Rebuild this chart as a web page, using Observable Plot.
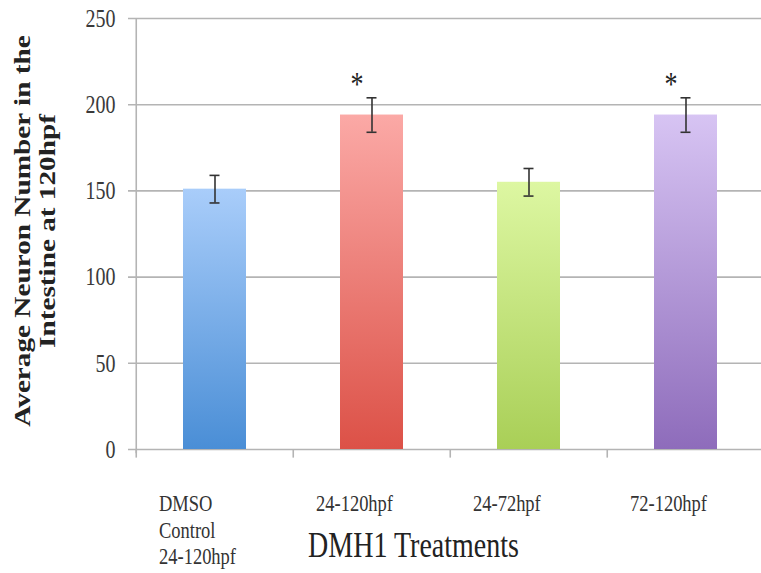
<!DOCTYPE html>
<html>
<head>
<meta charset="utf-8">
<script src="https://cdn.jsdelivr.net/npm/d3@7"></script>
<script src="https://cdn.jsdelivr.net/npm/@observablehq/plot@0.6"></script>
<style>
  body { margin: 0; background: #fff; }
  #chart svg { display: block; }
</style>
</head>
<body>
<div id="chart"></div>
<script>
// ---- data ----
const categories = ["DMSO\nControl\n24-120hpf", "24-120hpf", "24-72hpf", "72-120hpf"];
const means = [151, 194, 155, 194];
const errors = [8, 10, 8, 10];
const significance = ["", "*", "", "*"];
const yTicks = [0, 50, 100, 150, 200, 250];
const yLabel = "Average Neuron Number in the\nIntestine at 120hpf";
const xLabel = "DMH1 Treatments";
// palette (gradient top / bottom per bar)
const topColors = ["#a9cdfa", "#fba9a6", "#ddf7a2", "#d7c4f3"];
const bottomColors = ["#4a8ed6", "#dc5147", "#a9cf57", "#8e6cbb"];

const rows = categories.map((c, i) => ({
  cat: c, mean: means[i], lo: means[i] - errors[i], hi: means[i] + errors[i],
  sig: significance[i], grad: `url(#barGrad${i})`
}));

const width = 761, height = 573;
const marginLeft = 135, marginRight = -4;
const halfStep = (width - marginLeft - marginRight) / categories.length / 2;
const serif = "'Liberation Serif', 'DejaVu Serif', serif";

const gradientDefs = () => {
  const defs = d3.create("svg:defs");
  categories.forEach((c, i) => {
    const g = defs.append("linearGradient").attr("id", `barGrad${i}`)
      .attr("x1", 0).attr("y1", 0).attr("x2", 0).attr("y2", 1);
    g.append("stop").attr("offset", "0%").attr("stop-color", topColors[i]);
    g.append("stop").attr("offset", "100%").attr("stop-color", bottomColors[i]);
  });
  return defs.node();
};

const chart = Plot.plot({
  width, height,
  marginTop: 18, marginBottom: 124, marginLeft, marginRight,
  style: { fontFamily: serif, fontSize: "20px", color: "#3a3a3a", background: "#fff" },
  x: { type: "band", domain: categories, paddingInner: 0.6, paddingOuter: 0.3, axis: null },
  y: { domain: [0, 250], ticks: yTicks, tickSize: 0, tickPadding: 20, label: null, tickFormat: d => d },
  marks: [
    gradientDefs,
    // grid lines + left tick stubs
    Plot.ruleY(yTicks, { stroke: "#b4b4b4", strokeWidth: 1.6, insetLeft: -7 }),
    // vertical axis line
    Plot.ruleX([categories[0]], { dx: -halfStep, y1: 250, y2: -2.5, stroke: "#b4b4b4", strokeWidth: 1.6 }),
    // category boundary ticks below the axis
    Plot.ruleX(categories, { dx: -halfStep, y1: 0, y2: -5, stroke: "#b4b4b4", strokeWidth: 1.6 }),
    // bars
    Plot.barY(rows, { x: "cat", y: "mean", fill: "grad" }),
    // error bars
    Plot.ruleX(rows, { x: "cat", y1: "lo", y2: "hi", stroke: "#333", strokeWidth: 1.6 }),
    Plot.tickY(rows, { x: "cat", y: "lo", stroke: "#333", strokeWidth: 1.6, insetLeft: 26.5, insetRight: 26.5 }),
    Plot.tickY(rows, { x: "cat", y: "hi", stroke: "#333", strokeWidth: 1.6, insetLeft: 26.5, insetRight: 26.5 }),
    // significance markers
    Plot.text(rows.filter(d => d.sig), { x: "cat", y: d => d.hi + 8, text: "sig", dx: -15,
      fontSize: 26, fill: "#222", fontFamily: serif }),
    // category labels
    Plot.text(rows, { x: "cat", text: "cat", frameAnchor: "bottom", dy: 43, dx: -56,
      textAnchor: "start", lineAnchor: "top", lineHeight: 1.1, fontSize: 18.5, fill: "#333", fontFamily: serif }),
    // x axis title
    Plot.text([xLabel], { frameAnchor: "bottom", dy: 96, dx: -37, lineAnchor: "middle",
      fontSize: 28, fill: "#222", fontFamily: serif }),
    // y axis title
    Plot.text([yLabel], { frameAnchor: "left", dx: -101, dy: -3, rotate: -90, textAnchor: "middle", lineAnchor: "middle",
      lineHeight: 1.1, fontSize: 22.5, fontWeight: "bold", fill: "#222", fontFamily: serif })
  ]
});

// The reference is vertically stretched: stretch the glyphs the same way
// (scaling about each text's own anchor point).
const k = 1.3;
chart.querySelectorAll("text").forEach(t => {
  const tr = t.getAttribute("transform") || "";
  const s = /rotate/.test(tr) ? `scale(${k},1)` : `scale(1,${k})`;
  t.setAttribute("transform", `${tr} ${s}`);
});

document.getElementById("chart").appendChild(chart);
</script>
</body>
</html>
